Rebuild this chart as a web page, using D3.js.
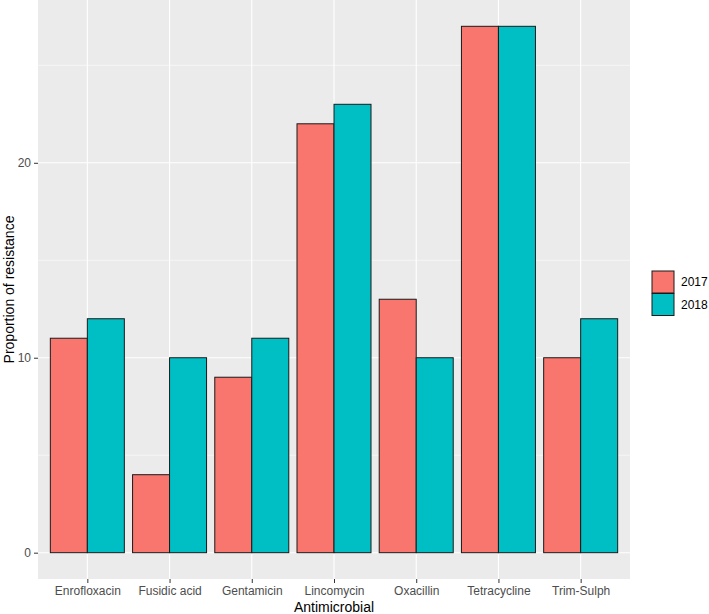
<!DOCTYPE html>
<html>
<head>
<meta charset="utf-8">
<script src="https://cdn.jsdelivr.net/npm/d3@7"></script>
<style>
  body { margin: 0; background: #fff; }
  text { font-family: "Liberation Sans", Arial, sans-serif; }
</style>
</head>
<body>
<div id="chart"></div>
<script>
// data
var categories = ["Enrofloxacin", "Fusidic acid", "Gentamicin", "Lincomycin", "Oxacillin", "Tetracycline", "Trim-Sulph"];
var years = ["2017", "2018"];
var values2017 = [11, 4, 9, 22, 13, 27, 10];
var values2018 = [12, 10, 11, 23, 10, 27, 12];
var yTicks = [0, 10, 20];
var yMinor = [5, 15, 25];
var colors = ["#F8766D", "#00BFC4"];

var W = 709, H = 614;
var margin = {top: 0, right: 79, bottom: 35, left: 38},
    width = W - margin.left - margin.right,
    height = H - margin.top - margin.bottom;

var svg = d3.select("#chart")
    .append("svg")
    .attr("width", W)
    .attr("height", H);

var g = svg.append("g").attr("transform", "translate(" + margin.left + "," + margin.top + ")");

// panel background
g.append("rect")
    .attr("width", width)
    .attr("height", height)
    .attr("fill", "#EBEBEB");

var step = width / (categories.length - 1 + 1.2);
var x = d3.scalePoint()
    .domain(categories)
    .range([0.6 * step, width - 0.6 * step]);

var dodge = step * 0.9;
var xs = d3.scaleBand()
    .domain(years)
    .range([-dodge / 2, dodge / 2])
    .padding(0);

var maxV = d3.max(values2017.concat(values2018));
var y = d3.scaleLinear()
    .domain([-0.05 * maxV, maxV * 1.05])
    .range([height, 0]);

// gridlines
g.selectAll(".minor")
    .data(yMinor)
    .enter().append("line")
    .attr("x1", 0).attr("x2", width)
    .attr("y1", function (d) { return y(d); })
    .attr("y2", function (d) { return y(d); })
    .attr("stroke", "#fff")
    .attr("stroke-width", 0.55);

g.selectAll(".major")
    .data(yTicks)
    .enter().append("line")
    .attr("x1", 0).attr("x2", width)
    .attr("y1", function (d) { return y(d); })
    .attr("y2", function (d) { return y(d); })
    .attr("stroke", "#fff")
    .attr("stroke-width", 1.1);

g.selectAll(".vmajor")
    .data(categories)
    .enter().append("line")
    .attr("y1", 0).attr("y2", height)
    .attr("x1", function (d) { return x(d); })
    .attr("x2", function (d) { return x(d); })
    .attr("stroke", "#fff")
    .attr("stroke-width", 1.1);

// bars
var rows = [];
categories.forEach(function (c, i) {
    rows.push({cat: c, year: "2017", v: values2017[i]});
    rows.push({cat: c, year: "2018", v: values2018[i]});
});

g.selectAll(".bar")
    .data(rows)
    .enter().append("rect")
    .attr("class", "bar")
    .attr("x", function (d) { return x(d.cat) + xs(d.year); })
    .attr("width", xs.bandwidth())
    .attr("y", function (d) { return y(d.v); })
    .attr("height", function (d) { return y(0) - y(d.v); })
    .attr("fill", function (d) { return colors[years.indexOf(d.year)]; })
    .attr("stroke", "#1a1a1a")
    .attr("stroke-width", 1);

// axes
var xAxis = g.append("g")
    .attr("transform", "translate(0," + height + ")")
    .call(d3.axisBottom(x).tickSize(4).tickPadding(3));
xAxis.select(".domain").remove();
xAxis.selectAll("line").attr("stroke", "#333");
xAxis.selectAll("text").attr("fill", "#4D4D4D").style("font-size", "12px");

var yAxis = g.append("g")
    .call(d3.axisLeft(y).tickValues(yTicks).tickSize(4).tickPadding(3));
yAxis.select(".domain").remove();
yAxis.selectAll("line").attr("stroke", "#333");
yAxis.selectAll("text").attr("fill", "#4D4D4D").style("font-size", "12px");

// axis titles
svg.append("text")
    .attr("x", margin.left + width / 2)
    .attr("y", 612)
    .attr("text-anchor", "middle")
    .style("font-size", "14px")
    .attr("fill", "#000")
    .text("Antimicrobial");

svg.append("text")
    .attr("transform", "translate(14," + (margin.top + height / 2) + ") rotate(-90)")
    .attr("text-anchor", "middle")
    .style("font-size", "14px")
    .attr("fill", "#000")
    .text("Proportion of resistance");

// legend
var legend = svg.append("g").attr("transform", "translate(652,271)");
var keys = legend.selectAll(".key")
    .data(years)
    .enter().append("g")
    .attr("transform", function (d, i) { return "translate(0," + (i * 22.5) + ")"; });
keys.append("rect")
    .attr("width", 22)
    .attr("height", 22)
    .attr("fill", function (d, i) { return colors[i]; })
    .attr("stroke", "#1a1a1a")
    .attr("stroke-width", 1);
keys.append("text")
    .attr("x", 29)
    .attr("y", 11)
    .attr("dy", "0.35em")
    .style("font-size", "12px")
    .attr("fill", "#000")
    .text(function (d) { return d; });
</script>
</body>
</html>
